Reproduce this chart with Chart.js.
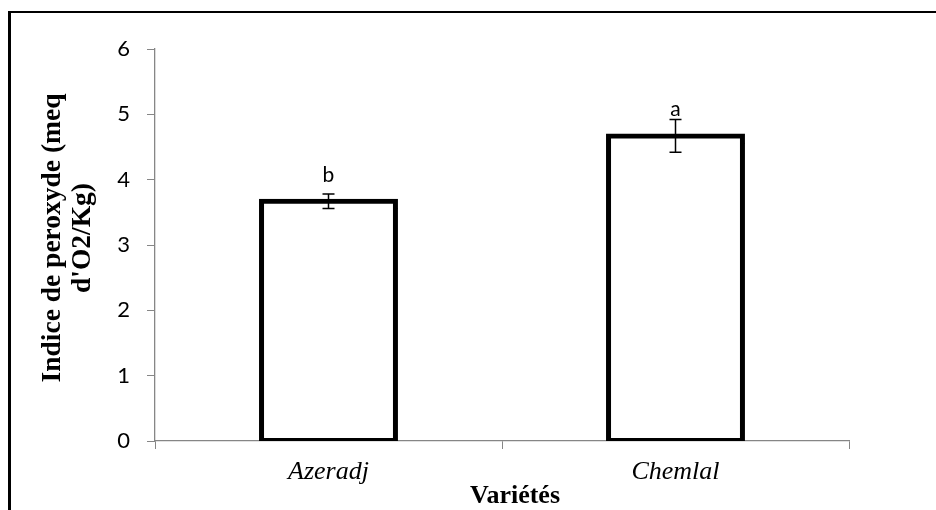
<!DOCTYPE html>
<html>
<head>
<meta charset="utf-8">
<script src="https://cdn.jsdelivr.net/npm/chart.js@4"></script>
<style>
  html, body { margin: 0; padding: 0; background: #fff; overflow: hidden; }
  canvas { display: block; }
</style>
</head>
<body>
<canvas id="chart" width="936" height="510"></canvas>
<script>
/* ── DATA ─────────────────────────────────────────────── */
const varieties = ['Azeradj', 'Chemlal'];
const peroxide = [3.67, 4.67];
const errors = [0.11, 0.25];
const groups = ['b', 'a'];
const yTicks = [0, 1, 2, 3, 4, 5, 6];

const yTitle = ['Indice de peroxyde (meq', "d'O2/Kg)"];
const xTitle = 'Variétés';

const AXIS_GREY = '#868686';
const SERIF = '"Liberation Serif", "Times New Roman", serif';
const SANS = 'Lato, "Open Sans", sans-serif';

/* ── FRAME, ERROR BARS, LETTERS, AXIS TITLES ──────────── */
const extras = {
  id: 'extras',
  beforeDraw(chart) {
    // outer frame (only top and left edges are inside the picture)
    const ctx = chart.ctx;
    ctx.save();
    ctx.fillStyle = '#000';
    ctx.fillRect(8, 11, 3, 510);
    ctx.fillRect(8, 11, 936, 2);
    ctx.restore();
  },
  afterDatasetsDraw(chart) {
    const ctx = chart.ctx;
    const x = chart.scales.x, y = chart.scales.y;
    ctx.save();
    ctx.strokeStyle = '#000';
    ctx.lineWidth = 1.5;
    peroxide.forEach((v, i) => {
      const cx = x.getPixelForValue(i);
      const yTop = y.getPixelForValue(v + errors[i]);
      const yBot = y.getPixelForValue(v - errors[i]);
      ctx.beginPath();
      ctx.moveTo(cx, yTop); ctx.lineTo(cx, yBot);
      ctx.moveTo(cx - 6, yTop); ctx.lineTo(cx + 6, yTop);
      ctx.moveTo(cx - 6, yBot); ctx.lineTo(cx + 6, yBot);
      ctx.stroke();

      // significance letters
      ctx.fillStyle = '#000';
      ctx.font = '21px ' + SANS;
      ctx.textAlign = 'center';
      ctx.textBaseline = 'alphabetic';
      ctx.fillText(groups[i], cx, y.getPixelForValue(v) - 19.5);
    });

    // x title
    ctx.font = 'bold 26px ' + SERIF;
    ctx.textAlign = 'center';
    ctx.textBaseline = 'alphabetic';
    ctx.fillText(xTitle, 515, 503);

    // y title, two lines rotated
    ctx.font = 'bold 27.5px ' + SERIF;
    yTitle.forEach((line, k) => {
      ctx.save();
      ctx.translate(60 + k * 30, 238);
      ctx.rotate(-Math.PI / 2);
      ctx.fillText(line, 0, 0);
      ctx.restore();
    });
    ctx.restore();
  }
};

new Chart(document.getElementById('chart'), {
  type: 'bar',
  data: {
    labels: varieties,
    datasets: [{
      data: peroxide,
      backgroundColor: '#fff',
      borderColor: '#000',
      borderWidth: 5,
      borderSkipped: false,
      inflateAmount: 2.5,
      barPercentage: 0.386,
      categoryPercentage: 1,
    }],
  },
  options: {
    responsive: false,
    animation: false,
    layout: { padding: { left: 0, top: 49, right: 87, bottom: 0 } },
    plugins: {
      legend: { display: false },
      tooltip: { enabled: false },
    },
    scales: {
      x: {
        z: 1,
        afterFit: s => { s.height = 69; },
        grid: { offset: true, drawOnChartArea: false, tickLength: 8, color: AXIS_GREY, lineWidth: 1 },
        border: { color: AXIS_GREY, width: 1.3 },
        ticks: {
          color: '#000',
          padding: 8,
          font: { family: SERIF, size: 26, style: 'italic' },
        },
      },
      y: {
        min: 0,
        max: 6,
        afterFit: s => { s.width = 155; },
        afterBuildTicks: s => { s.ticks = yTicks.map(v => ({ value: v })); },
        grid: { drawOnChartArea: false, tickLength: 8, color: AXIS_GREY, lineWidth: 1 },
        border: { color: AXIS_GREY, width: 1.3 },
        ticks: {
          color: '#000',
          padding: 17,
          font: { family: SANS, size: 22 },
        },
      },
    },
  },
  plugins: [extras],
});
</script>
</body>
</html>
